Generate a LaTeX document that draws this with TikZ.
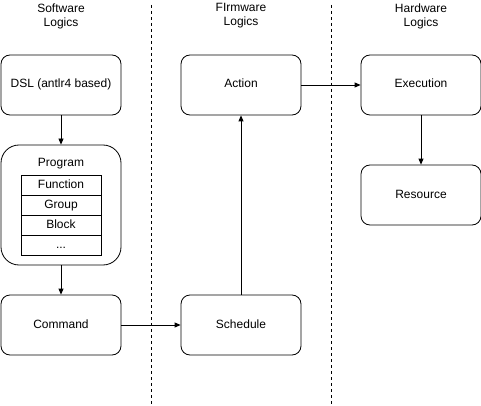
\documentclass[tikz,border=0pt]{standalone}
\usepackage{fontspec}
\setmainfont{Liberation Sans}
\usetikzlibrary{arrows.meta,positioning}
\tikzset{
  box/.style     = {draw, line width=0.8pt, fill=white, minimum width=120pt, minimum height=60pt,
                    rounded corners=9pt, inner sep=0pt, text height=8.6pt, text depth=2.6pt,
                    font=\fontsize{12}{14}\selectfont},
  bigbox/.style  = {box, minimum height=120pt, rounded corners=18pt},
  cell/.style    = {draw, line width=0.8pt, minimum width=80pt, minimum height=20pt,
                    inner sep=0pt, text height=8.6pt, text depth=2.6pt,
                    font=\fontsize{12}{14}\selectfont},
  head/.style    = {align=center, font=\fontsize{12}{14}\selectfont},
  sep/.style     = {dashed, line width=0.7pt},
  flow/.style    = {-{Triangle[length=6pt,width=5pt]}, line width=0.8pt},
}
\begin{document}
\begin{tikzpicture}[x=1pt,y=-1pt]
  \useasboundingbox (0,0) rectangle (481,406);
  % lanes
  \draw[sep] (151,5) -- (151,406);
  \draw[sep] (331,5) -- (331,406);
  \node[head] (sw) at (61,16) {Software\\Logics};
  \node[head] (fw) at (241,16) {FIrmware\\Logics};
  \node[head] (hw) at (421,16) {Hardware\\Logics};
  % software
  \node[box] (dsl) at (61,85) {DSL (antlr4 based)};
  \node[bigbox] (prog) at (61,205) {};
  \node[head] (progt) at (61,164) {Program};
  \node[cell] (func) at (61,185) {Function};
  \node[cell] (grp) at (61,205) {Group};
  \node[cell] (blk) at (61,225) {Block};
  \node[cell] (etc) at (61,245) {...};
  \node[box] (cmd) at (61,325) {Command};
  % firmware
  \node[box] (act) at (241,85) {Action};
  \node[box] (sch) at (241,325) {Schedule};
  % hardware
  \node[box] (exe) at (421,85) {Execution};
  \node[box] (res) at (421,195) {Resource};
  % connectors
  \draw[flow] (dsl) -- (prog);
  \draw[flow] (prog) -- (cmd);
  \draw[flow] (cmd) -- (sch);
  \draw[flow] (sch) -- (act);
  \draw[flow] (act) -- (exe);
  \draw[flow] (exe) -- (res);
\end{tikzpicture}
\end{document}
